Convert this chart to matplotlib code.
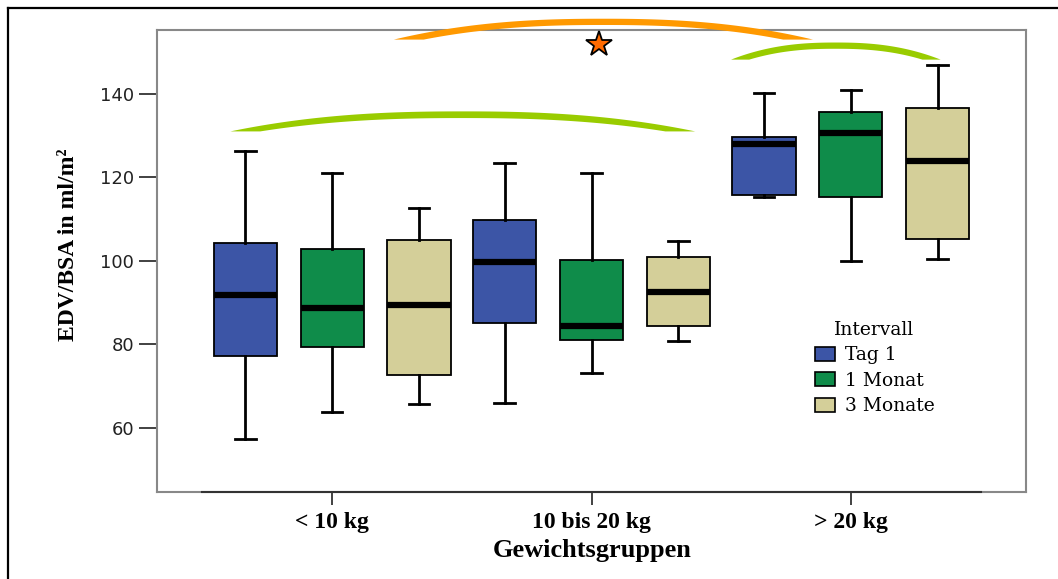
import numpy as np
import matplotlib
matplotlib.use("Agg")
import matplotlib.pyplot as plt
from matplotlib.patches import Patch, Polygon
from matplotlib.lines import Line2D

# Daten
gruppen = ['< 10 kg', '10 bis 20 kg', '> 20 kg']
intervalle = ['Tag 1', '1 Monat', '3 Monate']
farben = ['#3c55a6', '#0f8c4a', '#d4cf99']

# je Gruppe: [Tag 1, 1 Monat, 3 Monate]
whislo = [[57.3, 63.7, 65.7], [66.0, 73.2, 80.8], [115.4, 100.0, 100.4]]
q1 = [[77.2, 79.3, 72.6], [85.0, 81.0, 84.4], [115.7, 115.3, 105.3]]
median = [[91.8, 88.6, 89.4], [99.8, 84.4, 92.5], [127.9, 130.6, 123.8]]
q3 = [[104.2, 102.8, 105.0], [109.8, 100.2, 100.9], [129.7, 135.6, 136.6]]
whishi = [[126.2, 121.0, 112.7], [123.5, 121.0, 104.8], [140.1, 140.9, 146.9]]

y_ticks = [60, 80, 100, 120, 140]

fig = plt.figure(figsize=(10.58, 5.79), dpi=100)
ax = fig.add_axes([157 / 1058, 87 / 579, 869 / 1058, 462 / 579])

versatz = 0.335
breite = 0.243
for g in range(len(gruppen)):
    for i in range(len(intervalle)):
        stats = [dict(med=median[g][i], q1=q1[g][i], q3=q3[g][i],
                      whislo=whislo[g][i], whishi=whishi[g][i], fliers=[])]
        ax.bxp(stats, positions=[g + (i - 1) * versatz], widths=breite,
               capwidths=0.08, patch_artist=True, showfliers=False,
               boxprops=dict(facecolor=farben[i], edgecolor='black', linewidth=1.3),
               whiskerprops=dict(color='black', linewidth=2),
               capprops=dict(color='black', linewidth=2),
               medianprops=dict(color='black', linewidth=4.5, solid_capstyle='butt'))

ax.set_xlim(-0.675, 2.675)
ax.set_ylim(44.6, 155.3)
ax.set_xticks(range(len(gruppen)))
ax.set_xticklabels(gruppen, family='Liberation Serif', fontweight='bold', fontsize=17)
ax.set_yticks(y_ticks)
ax.set_yticklabels([str(t) for t in y_ticks], family='DejaVu Sans', fontsize=13, color='#222222')
ax.tick_params(axis='y', length=13, width=1.3, color='#333333', pad=3.5)
ax.tick_params(axis='x', length=9.5, width=1.3, color='#333333', pad=5)

for s in ax.spines.values():
    s.set_color('#888888')
    s.set_linewidth(1.5)
ax.plot([-0.5, 2.5], [44.6, 44.6], color='#333333', lw=1.5, clip_on=False, zorder=5)

ax.set_ylabel('EDV/BSA in ml/m²', family='Liberation Serif', fontweight='bold',
              fontsize=17, va='center')
ax.yaxis.set_label_coords(-0.102, 0.535)
ax.set_xlabel('Gewichtsgruppen', family='Liberation Serif', fontweight='bold',
              fontsize=19, va='center')
ax.xaxis.set_label_coords(0.5006, -0.1275)

# Legende
handles = [Patch(facecolor=farben[i], edgecolor='black', linewidth=1.2) for i in range(3)]
leg = ax.legend(handles, intervalle, title='Intervall', loc='upper left',
                bbox_to_anchor=(0.748, 0.387), frameon=False,
                prop=dict(family='DejaVu Serif', size=13.5),
                handlelength=1.1, handleheight=0.8, handletextpad=0.5,
                labelspacing=0.4, borderaxespad=0)
leg.get_title().set_family('DejaVu Serif')
leg.get_title().set_fontsize(13.5)


# Signifikanzbögen (Sichel-Form)
def bogen(x0, x1, y_ende, y_spitze, einzug, dicke, farbe):
    t = np.linspace(-1, 1, 120)
    xa = (x0 + x1) / 2 + t * (x1 - x0) / 2
    ya = y_ende + (y_spitze - y_ende) * (1 - np.abs(t) ** 2.4)
    xi = (x0 + x1) / 2 + t[::-1] * ((x1 - x0) / 2 - einzug)
    yi = y_ende + (y_spitze - dicke - y_ende) * (1 - np.abs(t[::-1]) ** 2.4)
    pts = np.column_stack([np.concatenate([xa, xi]), np.concatenate([ya, yi])])
    ax.add_patch(Polygon(pts, closed=True, facecolor=farben_bogen[farbe],
                         edgecolor='none', clip_on=False, zorder=6))


farben_bogen = {'gruen': '#99cc00', 'orange': '#ff9900'}
bogen(-0.392, 1.40, 131.0, 135.8, 0.115, 1.6, 'gruen')
bogen(0.238, 1.854, 153.0, 158.0, 0.115, 1.5, 'orange')
bogen(1.538, 2.346, 148.2, 152.3, 0.07, 1.5, 'gruen')
ax.plot([1.03], [152.0], marker='*', markersize=19, markerfacecolor='#ff6a00',
        markeredgecolor='black', markeredgewidth=1.3, clip_on=False, zorder=7)

# äußerer Rahmen
fig.add_artist(Line2D([8 / 1058, 1], [1 - 8 / 579, 1 - 8 / 579], color='black', lw=1.6))
fig.add_artist(Line2D([8 / 1058, 8 / 1058], [0, 1 - 8 / 579], color='black', lw=1.6))

fig.savefig('out.png', dpi=100)
